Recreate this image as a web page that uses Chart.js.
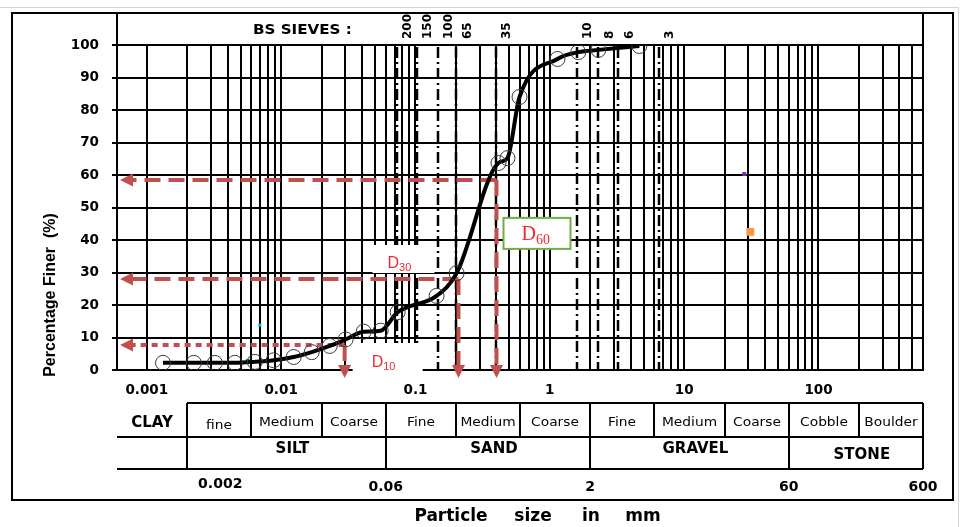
<!DOCTYPE html>
<html>
<head>
<meta charset="utf-8">
<script src="https://cdn.jsdelivr.net/npm/chart.js@4"></script>
<style>
  html, body { margin: 0; padding: 0; background: #fff; }
  #grading { display: block; }
</style>
</head>
<body>
<canvas id="grading" width="961" height="527"></canvas>
<script>
// --- data ---
const particleSize = [0.00132, 0.00224, 0.00321, 0.00452, 0.00637, 0.0088, 0.0124, 0.0169, 0.023, 0.0302, 0.0412, 0.0551, 0.0737, 0.1436, 0.2024, 0.415, 0.484, 0.595, 1.14, 1.63, 2.30, 4.64];
const percentFiner = [2.2, 2.2, 2.2, 2.2, 2.5, 3.0, 4.0, 5.5, 7.4, 9.4, 11.8, 12.1, 17.8, 22.8, 29.8, 63.7, 65.2, 84, 95.7, 97.8, 98.5, 99.7];

// stray marks left on the sheet
const strayX = [0.00565, 0.00694, 28.0, 31.1];
const strayY = [2.8, 13.8, 60.3, 42.5];
const strayColors = ['#00b050', '#00b0f0', '#7030a0', '#f79646'];

// D10 / D30 / D60 read-off
const dNames = ['10', '30', '60'];
const dSize = [0.0297, 0.209, 0.401];
const dFiner = [7.7, 28, 58.5];

// BS sieves
const sieveNos = ['200', '150', '100', '65', '35', '10', '8', '6', '3'];
const sieveSize = [0.0725, 0.102, 0.146, 0.202, 0.40, 1.6, 2.3, 3.24, 6.5];

// axes
const xTickLabels = [0.001, 0.01, 0.1, 1, 10, 100];
const xMin = 0.0006, xMax = 600;

// classification table under the chart
const classBounds = [0.002, 0.006, 0.02, 0.06, 0.2, 0.6, 2, 6, 20, 60, 200, 600];
const subNames = ['fine', 'Medium', 'Coarse', 'Fine', 'Medium', 'Coarse', 'Fine', 'Medium', 'Coarse', 'Cobble', 'Boulder'];
const mainBounds = [0.002, 0.06, 2, 60, 600];
const mainNames = ['SILT', 'SAND', 'GRAVEL', 'STONE'];
const boundLabels = ['0.002', '0.06', '2', '60', '600'];

const RED = '#c0504d';
const TXT_RED = '#f02a2a';

function gridValues() {
    const vals = [];
    xTickLabels.forEach(d => {
        for (let k = 1; k <= 9; k++) {
            const v = +(k * d).toPrecision(6);
            if (v < xMax) vals.push(v);
        }
    });
    vals.push(xMax);
    return vals;
}

function text(ctx, s, x, y, font, opts = {}) {
    ctx.save();
    ctx.font = font;
    ctx.fillStyle = opts.color || '#000';
    ctx.textAlign = opts.align || 'center';
    ctx.textBaseline = 'middle';
    ctx.translate(x, y);
    if (opts.rotate) ctx.rotate(opts.rotate);
    ctx.scale(opts.sx || 1, 1);
    ctx.fillText(s, 0, 0);
    ctx.restore();
}

function line(ctx, x1, y1, x2, y2) {
    ctx.beginPath();
    ctx.moveTo(x1, y1);
    ctx.lineTo(x2, y2);
    ctx.stroke();
}

function arrowHead(ctx, x, y, dir) {
    ctx.beginPath();
    ctx.moveTo(x, y);
    if (dir === 'left') {
        ctx.lineTo(x + 13, y - 6.5);
        ctx.lineTo(x + 13, y + 6.5);
    } else {
        ctx.lineTo(x - 6.5, y - 13);
        ctx.lineTo(x + 6.5, y - 13);
    }
    ctx.closePath();
    ctx.fill();
}

function dLabel(ctx, x, y, sub, family, size) {
    ctx.save();
    ctx.fillStyle = TXT_RED;
    ctx.textAlign = 'left';
    ctx.textBaseline = 'alphabetic';
    ctx.font = size + 'px ' + family;
    const w = ctx.measureText('D').width;
    ctx.fillText('D', x, y);
    ctx.font = Math.round(size * 0.7) + 'px ' + family;
    ctx.fillText(sub, x + w, y + size * 0.2);
    ctx.restore();
}

// --- decorations: sieves, D-value arrows, header and classification table ---
const gradingDecor = {
    id: 'gradingDecor',
    beforeDatasetsDraw(chart) {
        const { ctx, chartArea: ca, scales: { x, y } } = chart;
        ctx.save();

        // BS sieve lines (dash-dot)
        ctx.strokeStyle = '#000';
        ctx.lineWidth = 2.5;
        ctx.setLineDash([11, 4, 2, 4]);
        sieveSize.forEach(s => {
            const px = Math.round(x.getPixelForValue(s));
            line(ctx, px, ca.top + 2, px, ca.bottom);
        });
        ctx.setLineDash([]);

        // white patches behind D10 / D30 labels
        const p10 = x.getPixelForValue(dSize[0]);
        const p30 = x.getPixelForValue(dSize[1]);
        ctx.fillStyle = '#fff';
        ctx.fillRect(p30 - 86, y.getPixelForValue(dFiner[1]) - 34, 62, 28);
        ctx.fillRect(p10 + 8, ca.bottom - 27, 70, 32);

        // arrows
        ctx.strokeStyle = RED;
        ctx.fillStyle = RED;
        ctx.lineWidth = 4;
        dSize.forEach((d, i) => {
            const px = x.getPixelForValue(d);
            const py = y.getPixelForValue(dFiner[i]);
            ctx.setLineDash(i === 0 ? [6, 5] : [16, 8]);
            line(ctx, px, py, ca.left + 16, py);
            ctx.setLineDash([16, 8]);
            line(ctx, px, py, px, ca.bottom - 4);
            ctx.setLineDash([]);
            arrowHead(ctx, ca.left + 3, py, 'left');
            arrowHead(ctx, px, ca.bottom + 8, 'down');
        });
        ctx.restore();
    },
    afterDatasetsDraw(chart) {
        const { ctx, scales: { x, y } } = chart;
        const p10 = x.getPixelForValue(dSize[0]);
        const p30 = x.getPixelForValue(dSize[1]);
        const p60 = x.getPixelForValue(dSize[2]);
        const y30 = y.getPixelForValue(dFiner[1]);
        const y60 = y.getPixelForValue(dFiner[2]);
        const bottom = chart.chartArea.bottom;

        ctx.save();
        ctx.fillStyle = '#fff';
        ctx.strokeStyle = '#70ad47';
        ctx.lineWidth = 2;
        ctx.fillRect(p60 + 7, y60 + 38, 67, 31);
        ctx.strokeRect(p60 + 7, y60 + 38, 67, 31);
        ctx.restore();

        dLabel(ctx, p10 + 27, bottom - 3, dNames[0], '"Liberation Sans", Arial, sans-serif', 16);
        dLabel(ctx, p30 - 71, y30 - 11, dNames[1], '"Liberation Sans", Arial, sans-serif', 16);
        dLabel(ctx, p60 + 25, y60 + 60, dNames[2], '"Liberation Serif", "Times New Roman", serif', 20);
    },
    afterDraw(chart) {
        const { ctx, chartArea: ca, scales: { x } } = chart;
        const bold = s => 'bold ' + s + 'px "DejaVu Sans", sans-serif';
        ctx.save();

        // sheet edges
        ctx.strokeStyle = '#d4d4d4';
        ctx.lineWidth = 1;
        line(ctx, 0, 7.5, 958, 7.5);
        line(ctx, 958.5, 7, 958.5, 527);

        // outer frame and header box
        ctx.strokeStyle = '#000';
        ctx.lineWidth = 2;
        ctx.strokeRect(12, 13, 941, 487);
        line(ctx, ca.left, 13, ca.left, ca.top);
        line(ctx, ca.right, 13, ca.right, ca.top);

        text(ctx, 'BS SIEVES :', 253, 30, bold(14), { align: 'left', sx: 1.08 });
        sieveNos.forEach((n, i) => {
            const px = x.getPixelForValue(sieveSize[i]) + 11;
            text(ctx, n, px, 39, bold(12), { align: 'left', rotate: -Math.PI / 2 });
        });

        // axis titles
        text(ctx, 'Percentage Finer  (%)', 51, 295, 'bold 16px "Liberation Sans", Arial, sans-serif', { rotate: -Math.PI / 2 });
        const titleY = 517;
        [['Particle', 451], ['size', 533], ['in', 591], ['mm', 643]].forEach(([w, cx]) => {
            text(ctx, w, cx, titleY, bold(17));
        });

        // classification table
        const t0 = ca.bottom + 33, t1 = ca.bottom + 67, t2 = ca.bottom + 99;
        const bx = classBounds.map(b => Math.round(x.getPixelForValue(b)));
        line(ctx, bx[0], t0, ca.right, t0);
        line(ctx, ca.left, t1, ca.right, t1);
        line(ctx, ca.left, t2, ca.right, t2);
        classBounds.forEach((b, i) => {
            const full = mainBounds.includes(b);
            line(ctx, bx[i], t0, bx[i], full ? t2 : t1);
        });

        text(ctx, 'CLAY', 152, t0 + 20, bold(15));
        subNames.forEach((n, i) => {
            const cx = (bx[i] + bx[i + 1]) / 2;
            text(ctx, n, cx, t0 + (i === 0 ? 23 : 20), '13px "DejaVu Sans", sans-serif', { sx: 1.06 });
        });
        mainNames.forEach((n, i) => {
            const cx = (x.getPixelForValue(mainBounds[i]) + x.getPixelForValue(mainBounds[i + 1])) / 2;
            text(ctx, n, cx + 6, t1 + (i === 3 ? 18 : 12), bold(15));
        });
        boundLabels.forEach((n, i) => {
            let cx = x.getPixelForValue(mainBounds[i]);
            if (i === 0) cx += 33;
            text(ctx, n, cx, i === 0 ? t2 + 15 : t2 + 18, bold(14));
        });
        ctx.restore();
    }
};

new Chart(document.getElementById('grading'), {
    type: 'line',
    data: {
        datasets: [
            {
                label: 'Grading curve',
                data: particleSize.map((s, i) => ({ x: s, y: percentFiner[i] })),
                borderColor: '#000',
                borderWidth: 4,
                cubicInterpolationMode: 'monotone',
                pointStyle: 'circle',
                pointRadius: 7.5,
                pointBorderColor: '#3a3a3a',
                pointBorderWidth: 1,
                pointBackgroundColor: 'rgba(0,0,0,0)',
                fill: false
            },
            {
                type: 'scatter',
                label: 'marks',
                data: strayX.map((s, i) => ({ x: s, y: strayY[i] })),
                pointStyle: 'rect',
                pointRadius: [2.8, 2.2, 2.8, 5.5],
                pointBackgroundColor: strayColors,
                pointBorderWidth: 0
            }
        ]
    },
    options: {
        responsive: false,
        animation: false,
        devicePixelRatio: 1,
        layout: { padding: { left: 0, right: 38, top: 45, bottom: 127 } },
        plugins: { legend: { display: false }, tooltip: { enabled: false } },
        scales: {
            x: {
                type: 'logarithmic',
                min: xMin,
                max: xMax,
                afterBuildTicks: scale => { scale.ticks = gridValues().map(v => ({ value: v })); },
                afterFit: scale => { scale.height = 30; },
                grid: { color: '#000', lineWidth: 2, drawTicks: false },
                border: { color: '#000', width: 2 },
                ticks: {
                    autoSkip: false,
                    maxRotation: 0,
                    padding: 12,
                    color: '#000',
                    font: { family: '"DejaVu Sans", sans-serif', size: 13.5, weight: 'bold' },
                    callback: value => {
                        const t = xTickLabels.find(d => Math.abs(d - value) / d < 1e-6);
                        return t === undefined ? '' : String(t);
                    }
                }
            },
            y: {
                min: 0,
                max: 100,
                afterFit: scale => { scale.width = 117; },
                grid: { color: '#000', lineWidth: 2, tickLength: 5 },
                border: { color: '#000', width: 2 },
                ticks: {
                    stepSize: 10,
                    padding: 13,
                    color: '#000',
                    font: { family: '"DejaVu Sans", sans-serif', size: 13.5, weight: 'bold' }
                }
            }
        }
    },
    plugins: [gradingDecor]
});
</script>
</body>
</html>
